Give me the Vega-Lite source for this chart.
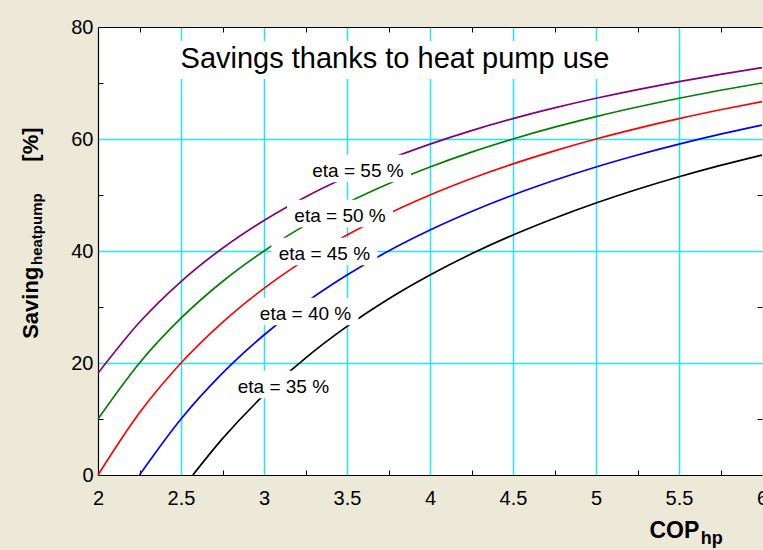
{
  "$schema": "https://vega.github.io/schema/vega-lite/v6.json",
  "width": 664,
  "height": 448,
  "autosize": {"type": "none"},
  "padding": {"left": 98, "top": 27, "right": 1, "bottom": 75},
  "background": "#ECE9D8",
  "config": {
    "view": {"fill": "white", "stroke": null},
    "axis": {"labelFont": "Liberation Sans", "labelFontSize": 20, "labelColor": "black", "domain": true, "domainColor": "black", "domainWidth": 1.2, "title": null, "labelFlush": false, "labelOverlap": false}
  },
  "datasets": {
    "curves": [
      {"eta": "55", "cop": 2, "saving": 18.18}, {"eta": "55", "cop": 2.25, "saving": 27.27}, {"eta": "55", "cop": 2.5, "saving": 34.55}, {"eta": "55", "cop": 2.75, "saving": 40.5}, {"eta": "55", "cop": 3, "saving": 45.45}, {"eta": "55", "cop": 3.25, "saving": 49.65}, {"eta": "55", "cop": 3.5, "saving": 53.25}, {"eta": "55", "cop": 3.75, "saving": 56.36}, {"eta": "55", "cop": 4, "saving": 59.09}, {"eta": "55", "cop": 4.25, "saving": 61.5}, {"eta": "55", "cop": 4.5, "saving": 63.64}, {"eta": "55", "cop": 4.75, "saving": 65.55}, {"eta": "55", "cop": 5, "saving": 67.27}, {"eta": "55", "cop": 5.25, "saving": 68.83}, {"eta": "55", "cop": 5.5, "saving": 70.25}, {"eta": "55", "cop": 5.75, "saving": 71.54}, {"eta": "55", "cop": 6, "saving": 72.73},
      {"eta": "50", "cop": 2, "saving": 10.0}, {"eta": "50", "cop": 2.25, "saving": 20.0}, {"eta": "50", "cop": 2.5, "saving": 28.0}, {"eta": "50", "cop": 2.75, "saving": 34.55}, {"eta": "50", "cop": 3, "saving": 40.0}, {"eta": "50", "cop": 3.25, "saving": 44.62}, {"eta": "50", "cop": 3.5, "saving": 48.57}, {"eta": "50", "cop": 3.75, "saving": 52.0}, {"eta": "50", "cop": 4, "saving": 55.0}, {"eta": "50", "cop": 4.25, "saving": 57.65}, {"eta": "50", "cop": 4.5, "saving": 60.0}, {"eta": "50", "cop": 4.75, "saving": 62.11}, {"eta": "50", "cop": 5, "saving": 64.0}, {"eta": "50", "cop": 5.25, "saving": 65.71}, {"eta": "50", "cop": 5.5, "saving": 67.27}, {"eta": "50", "cop": 5.75, "saving": 68.7}, {"eta": "50", "cop": 6, "saving": 70.0},
      {"eta": "45", "cop": 2, "saving": 0}, {"eta": "45", "cop": 2.25, "saving": 11.11}, {"eta": "45", "cop": 2.5, "saving": 20.0}, {"eta": "45", "cop": 2.75, "saving": 27.27}, {"eta": "45", "cop": 3, "saving": 33.33}, {"eta": "45", "cop": 3.25, "saving": 38.46}, {"eta": "45", "cop": 3.5, "saving": 42.86}, {"eta": "45", "cop": 3.75, "saving": 46.67}, {"eta": "45", "cop": 4, "saving": 50.0}, {"eta": "45", "cop": 4.25, "saving": 52.94}, {"eta": "45", "cop": 4.5, "saving": 55.56}, {"eta": "45", "cop": 4.75, "saving": 57.89}, {"eta": "45", "cop": 5, "saving": 60.0}, {"eta": "45", "cop": 5.25, "saving": 61.9}, {"eta": "45", "cop": 5.5, "saving": 63.64}, {"eta": "45", "cop": 5.75, "saving": 65.22}, {"eta": "45", "cop": 6, "saving": 66.67},
      {"eta": "40", "cop": 2.25, "saving": 0}, {"eta": "40", "cop": 2.5, "saving": 10.0}, {"eta": "40", "cop": 2.75, "saving": 18.18}, {"eta": "40", "cop": 3, "saving": 25.0}, {"eta": "40", "cop": 3.25, "saving": 30.77}, {"eta": "40", "cop": 3.5, "saving": 35.71}, {"eta": "40", "cop": 3.75, "saving": 40.0}, {"eta": "40", "cop": 4, "saving": 43.75}, {"eta": "40", "cop": 4.25, "saving": 47.06}, {"eta": "40", "cop": 4.5, "saving": 50.0}, {"eta": "40", "cop": 4.75, "saving": 52.63}, {"eta": "40", "cop": 5, "saving": 55.0}, {"eta": "40", "cop": 5.25, "saving": 57.14}, {"eta": "40", "cop": 5.5, "saving": 59.09}, {"eta": "40", "cop": 5.75, "saving": 60.87}, {"eta": "40", "cop": 6, "saving": 62.5},
      {"eta": "35", "cop": 2.5714, "saving": 0}, {"eta": "35", "cop": 2.75, "saving": 6.49}, {"eta": "35", "cop": 3, "saving": 14.29}, {"eta": "35", "cop": 3.25, "saving": 20.88}, {"eta": "35", "cop": 3.5, "saving": 26.53}, {"eta": "35", "cop": 3.75, "saving": 31.43}, {"eta": "35", "cop": 4, "saving": 35.71}, {"eta": "35", "cop": 4.25, "saving": 39.5}, {"eta": "35", "cop": 4.5, "saving": 42.86}, {"eta": "35", "cop": 4.75, "saving": 45.86}, {"eta": "35", "cop": 5, "saving": 48.57}, {"eta": "35", "cop": 5.25, "saving": 51.02}, {"eta": "35", "cop": 5.5, "saving": 53.25}, {"eta": "35", "cop": 5.75, "saving": 55.28}, {"eta": "35", "cop": 6, "saving": 57.14}
    ],
    "labels": [
      {"text": "eta = 55 %", "cop": 3.566, "s": 53.21},
      {"text": "eta = 50 %", "cop": 3.458, "s": 45.18},
      {"text": "eta = 45 %", "cop": 3.364, "s": 38.39},
      {"text": "eta = 40 %", "cop": 3.25, "s": 27.68},
      {"text": "eta = 35 %", "cop": 3.117, "s": 14.64}
    ],
    "title": [{"text": "Savings thanks to heat pump use", "cop": 3.789, "s": 72.63}]
  },
  "resolve": {"axis": {"x": "independent", "y": "independent"}},
  "layer": [
    {
      "data": {"name": "curves"},
      "mark": {"type": "line", "strokeWidth": 1.7, "interpolate": "monotone"},
      "encoding": {
        "x": {"field": "cop", "type": "quantitative", "scale": {"domain": [2, 6], "nice": false, "zero": false},
          "axis": {"orient": "bottom", "values": [2, 2.25, 2.5, 2.75, 3, 3.25, 3.5, 3.75, 4, 4.25, 4.5, 4.75, 5, 5.25, 5.5, 5.75, 6],
            "labelExpr": "(datum.value*2)%1==0 ? format(datum.value,'~g') : ''",
            "labelPadding": 18, "tickSize": -5, "tickWidth": 1,
            "tickColor": {"condition": {"test": "(datum.value*2)%1!=0", "value": "black"}, "value": "transparent"},
            "grid": true, "gridWidth": 1.5,
            "gridColor": {"condition": {"test": "(datum.value*2)%1==0 && datum.value>2 && datum.value<6", "value": "#22E6F4"}, "value": "transparent"}}},
        "y": {"field": "saving", "type": "quantitative", "scale": {"domain": [0, 80], "nice": false},
          "axis": {"orient": "left", "values": [0, 10, 20, 30, 40, 50, 60, 70, 80],
            "labelExpr": "datum.value%20==0 ? datum.label : ''",
            "labelPadding": 10, "tickSize": -5, "tickWidth": 1,
            "tickColor": {"condition": {"test": "datum.value%20!=0", "value": "black"}, "value": "transparent"},
            "grid": true, "gridWidth": 1.5,
            "gridColor": {"condition": {"test": "datum.value%20==0 && datum.value>0 && datum.value<80", "value": "#22E6F4"}, "value": "transparent"}}},
        "color": {"field": "eta", "type": "nominal", "legend": null,
          "scale": {"domain": ["35", "40", "45", "50", "55"], "range": ["#000000", "#0000FF", "#FF0000", "#008000", "#800080"]}}
      }
    },
    {
      "data": {"name": "labels"},
      "mark": {"type": "point", "shape": "M-1,-0.26H1V0.26H-1Z", "size": 11236, "filled": true, "fill": "white", "opacity": 1, "strokeOpacity": 0, "yOffset": -8.5},
      "encoding": {
        "x": {"field": "cop", "type": "quantitative", "axis": {"orient": "top", "values": [2.25, 2.75, 3.25, 3.75, 4.25, 4.75, 5.25, 5.75], "labels": false, "grid": false, "domain": true, "tickSize": -5, "tickColor": "black"}},
        "y": {"field": "s", "type": "quantitative", "axis": {"orient": "right", "values": [10, 30, 50, 70], "labels": false, "grid": false, "domain": false, "tickSize": -5, "tickColor": "black"}}
      }
    },
    {
      "data": {"name": "title"},
      "mark": {"type": "point", "shape": "M-1,-0.0856H1V0.0856H-1Z", "size": 197136, "filled": true, "fill": "white", "opacity": 1, "strokeOpacity": 0, "yOffset": -8.3},
      "encoding": {
        "x": {"field": "cop", "type": "quantitative", "axis": null},
        "y": {"field": "s", "type": "quantitative", "axis": null}
      }
    },
    {
      "data": {"name": "labels"},
      "mark": {"type": "text", "font": "Liberation Sans", "fontSize": 19, "align": "center", "baseline": "alphabetic", "color": "black"},
      "encoding": {
        "x": {"field": "cop", "type": "quantitative", "axis": null},
        "y": {"field": "s", "type": "quantitative", "axis": null},
        "text": {"field": "text"}
      }
    },
    {
      "data": {"name": "title"},
      "mark": {"type": "text", "font": "Liberation Sans", "fontSize": 29, "align": "center", "baseline": "alphabetic", "color": "black"},
      "encoding": {
        "x": {"field": "cop", "type": "quantitative", "axis": null},
        "y": {"field": "s", "type": "quantitative", "axis": null},
        "text": {"field": "text"}
      }
    },
    {
      "data": {"values": [{"text": "Saving", "cop": 1.6404, "s": 37.2}]},
      "mark": {"type": "text", "font": "Liberation Sans", "fontSize": 22, "fontWeight": "bold", "angle": 270, "align": "right", "baseline": "alphabetic", "color": "black"},
      "encoding": {
        "x": {"field": "cop", "type": "quantitative", "axis": null},
        "y": {"field": "s", "type": "quantitative", "axis": null},
        "text": {"field": "text"}
      }
    },
    {
      "data": {"values": [{"text": "heatpump", "cop": 1.6608, "s": 37.5}]},
      "mark": {"type": "text", "font": "Liberation Sans", "fontSize": 15, "fontWeight": "bold", "angle": 270, "align": "left", "baseline": "alphabetic", "color": "black"},
      "encoding": {
        "x": {"field": "cop", "type": "quantitative", "axis": null},
        "y": {"field": "s", "type": "quantitative", "axis": null},
        "text": {"field": "text"}
      }
    },
    {
      "data": {"values": [{"text": "[%]", "cop": 1.6404, "s": 55.95}]},
      "mark": {"type": "text", "font": "Liberation Sans", "fontSize": 22, "fontWeight": "bold", "angle": 270, "align": "left", "baseline": "alphabetic", "color": "black"},
      "encoding": {
        "x": {"field": "cop", "type": "quantitative", "axis": null},
        "y": {"field": "s", "type": "quantitative", "axis": null},
        "text": {"field": "text"}
      }
    },
    {
      "data": {"values": [{"text": "COP", "cop": 5.6223, "s": -11.2}]},
      "mark": {"type": "text", "font": "Liberation Sans", "fontSize": 23, "fontWeight": "bold", "align": "right", "baseline": "alphabetic", "color": "black"},
      "encoding": {
        "x": {"field": "cop", "type": "quantitative", "axis": null},
        "y": {"field": "s", "type": "quantitative", "axis": null},
        "text": {"field": "text"}
      }
    },
    {
      "data": {"values": [{"text": "hp", "cop": 5.6307, "s": -12.375}]},
      "mark": {"type": "text", "font": "Liberation Sans", "fontSize": 18, "fontWeight": "bold", "align": "left", "baseline": "alphabetic", "color": "black"},
      "encoding": {
        "x": {"field": "cop", "type": "quantitative", "axis": null},
        "y": {"field": "s", "type": "quantitative", "axis": null},
        "text": {"field": "text"}
      }
    }
  ]
}
